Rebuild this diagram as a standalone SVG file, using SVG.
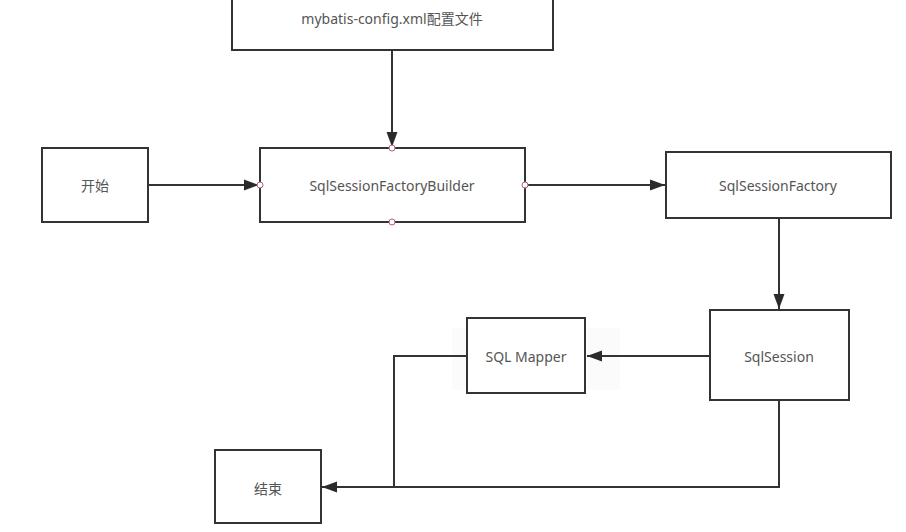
<svg xmlns="http://www.w3.org/2000/svg" width="906" height="532" viewBox="0 0 906 532">
<defs>
<marker id="arr" markerWidth="16" markerHeight="14" refX="15" refY="7" orient="auto" markerUnits="userSpaceOnUse">
<path d="M0,1.5 L15,7 L0,12.5 Z" fill="#2b2b2b"/>
</marker>
<style>
.box{fill:#fff;stroke:#333;stroke-width:2}
.t{font-family:"Noto Sans","Noto Sans CJK SC",sans-serif;font-size:14px;fill:#555;text-anchor:middle;dominant-baseline:central}
.c{fill:none;stroke:#333;stroke-width:2}
.pt{fill:#fff;stroke:#b06070;stroke-width:1}
</style>
</defs>
<rect width="906" height="532" fill="#fff"/>
<rect x="452" y="328" width="168" height="62" fill="#fbfbfb"/>
<g id="connectors">
<path class="c" d="M392,51 V147" marker-end="url(#arr)"/>
<path class="c" d="M149,185 H259" marker-end="url(#arr)"/>
<path class="c" d="M525,185 H665" marker-end="url(#arr)"/>
<path class="c" d="M779,219 V309" marker-end="url(#arr)"/>
<path class="c" d="M709,356 H587" marker-end="url(#arr)"/>
<path class="c" d="M467,356 H394 V487"/>
<path class="c" d="M779,401 V487 H322" marker-end="url(#arr)"/>
</g>
<g id="config">
<rect class="box" x="232" y="-10" width="321" height="60"/>
<text class="t" x="392" y="18">mybatis-config.xml配置文件</text>
</g>
<g id="start">
<rect class="box" x="42" y="148" width="106" height="74"/>
<text class="t" x="95" y="185">开始</text>
</g>
<g id="builder">
<rect class="box" x="260" y="148" width="265" height="74"/>
<text class="t" x="392" y="185">SqlSessionFactoryBuilder</text>
<circle class="pt" cx="392" cy="148" r="3"/>
<circle class="pt" cx="260" cy="185" r="3"/>
<circle class="pt" cx="525" cy="185" r="3"/>
<circle class="pt" cx="392" cy="222" r="3"/>
</g>
<g id="factory">
<rect class="box" x="666" y="152" width="225" height="66"/>
<text class="t" x="778" y="185">SqlSessionFactory</text>
</g>
<g id="session">
<rect class="box" x="710" y="310" width="139" height="90"/>
<text class="t" x="779" y="356">SqlSession</text>
</g>
<g id="mapper">
<rect class="box" x="467" y="318" width="118" height="75"/>
<text class="t" x="526" y="356">SQL Mapper</text>
</g>
<g id="end">
<rect class="box" x="215" y="450" width="106" height="73"/>
<text class="t" x="268" y="488">结束</text>
</g>
</svg>
